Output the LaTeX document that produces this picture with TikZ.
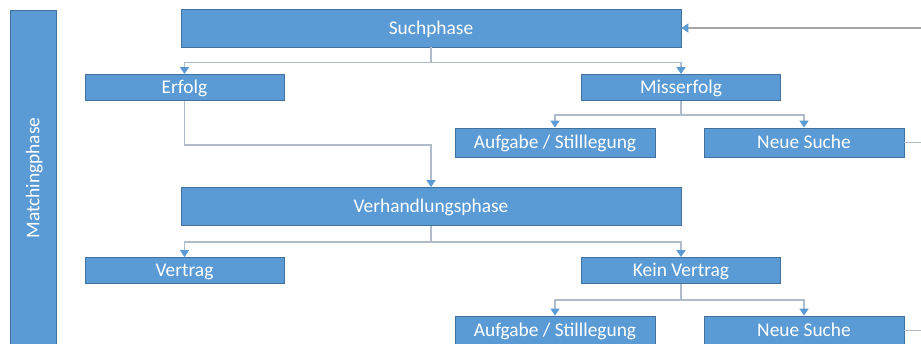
\documentclass[tikz,border=0pt]{standalone}
\usepackage{fontspec}
\setmainfont{Carlito}
\usepackage{xcolor}
\usepackage{tikz}
\usetikzlibrary{arrows,arrows.meta,positioning}

\definecolor{boxblue}{HTML}{5B9BD5}
\definecolor{boxline}{HTML}{41719C}
\definecolor{connline}{HTML}{B0BCCB}
\definecolor{backline}{HTML}{A6A6A6}

\begin{document}
\begin{tikzpicture}[x=1pt,y=-1pt,on grid,font=\fontsize{19.4}{22}\selectfont,
        box/.style={draw=boxline,fill=boxblue,text=white,line width=0.8pt,inner sep=0pt,text height=14pt,text depth=1.5pt},
        phase/.style={box,minimum width=500,minimum height=38},
        item/.style={box,minimum width=199,minimum height=26},
        sub/.style={box,minimum width=200,minimum height=29},
        link/.style={draw=connline,line width=1.5pt},
        conn/.style={link,-{Triangle[width=9pt,length=7pt,color=boxblue]}},
        back/.style={draw=backline,line width=2pt,-{Triangle[width=9pt,length=7pt,color=boxblue]}}]
        \useasboundingbox (0,0) rectangle (921,344);
        \clip (0,0) rectangle (921,344);
        \node[box,rotate=90,minimum width=336,minimum height=46] (m) at (33,178) {Matchingphase};
        \node[phase] (1) at (431,28) {Suchphase};
        \node[item] (2) [below left=59.5pt and 246.5pt of 1] {Erfolg};
        \node[item] (3) [below right=59.5pt and 250pt of 1] {Misserfolg};
        \node[sub] (4) [below left=55pt and 126pt of 3] {Aufgabe / Stilllegung};
        \node[sub] (5) [below right=55pt and 123pt of 3] {Neue Suche};
        \node[phase] (6) [below=178.5pt of 1] {Verhandlungsphase};
        \node[item] (7) [below left=64pt and 246.5pt of 6] {Vertrag};
        \node[item] (8) [below right=64pt and 250pt of 6] {Kein Vertrag};
        \node[sub] (9) [below left=60pt and 126pt of 8] {Aufgabe / Stilllegung};
        \node[sub] (10) [below right=60pt and 123pt of 8] {Neue Suche};
        \coordinate (r1) at (930,28);
        \coordinate (r2) at (930,142.5);
        \coordinate (r3) at (930,330.5);
        \draw[conn] (1.south) -- ++(0,15) -| (2.north);
        \draw[conn] (1.south) -- ++(0,15) -| (3.north);
        \draw[conn] (3.south) -- ++(0,14) -| (4.north);
        \draw[conn] (3.south) -- ++(0,14) -| (5.north);
        \draw[conn] (2.south) -- ++(0,44) -| (6.north);
        \draw[conn] (6.south) -- ++(0,16) -| (7.north);
        \draw[conn] (6.south) -- ++(0,16) -| (8.north);
        \draw[conn] (8.south) -- ++(0,16) -| (9.north);
        \draw[conn] (8.south) -- ++(0,16) -| (10.north);
        \draw[link] (5.east) -- (r2);
        \draw[link] (10.east) -- (r3);
        \draw[back] (r1) -- (1.east);
\end{tikzpicture}
\end{document}
